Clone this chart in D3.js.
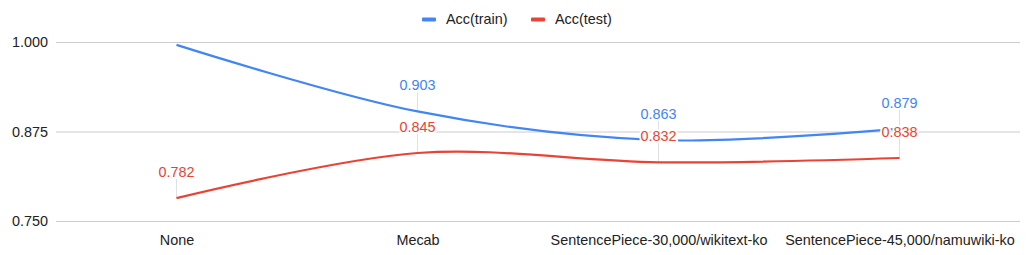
<!DOCTYPE html>
<html>
<head>
<meta charset="utf-8">
<script src="https://cdn.jsdelivr.net/npm/d3@7"></script>
<style>
  body { margin: 0; background: #fff; }
  text { font-family: "Liberation Sans", Arial, sans-serif; }
</style>
</head>
<body>
<div id="chart"></div>
<script>
// data
const categories = ["None", "Mecab", "SentencePiece-30,000/wikitext-ko", "SentencePiece-45,000/namuwiki-ko"];
const accTrain = [0.996, 0.903, 0.863, 0.879];
const accTest = [0.782, 0.845, 0.832, 0.838];
const yTicks = [0.750, 0.875, 1.000];
const seriesNames = ["Acc(train)", "Acc(test)"];
const seriesColors = ["#4285f4", "#ea4335"];

const width = 1033, height = 255;
const margin = {top: 42, right: 13, bottom: 34, left: 56};
const fontSize = "14.4px";

const svg = d3.select("#chart").append("svg")
    .attr("width", width)
    .attr("height", height);

const x = d3.scalePoint()
    .domain(categories)
    .range([margin.left, width - margin.right])
    .padding(0.5);

const y = d3.scaleLinear()
    .domain([0.75, 1.0])
    .range([height - margin.bottom, margin.top]);

// gridlines + y labels
const yAxis = svg.append("g")
    .attr("transform", `translate(${margin.left},0)`)
    .call(d3.axisLeft(y)
        .tickValues(yTicks)
        .tickFormat(d3.format(".3f"))
        .tickSize(-(width - margin.left - margin.right))
        .tickPadding(8));
yAxis.select(".domain").remove();
yAxis.selectAll(".tick line").attr("stroke", "#cccccc");
yAxis.selectAll(".tick text")
    .attr("fill", "#222")
    .style("font-size", fontSize);

// x labels
const xAxis = svg.append("g")
    .attr("transform", `translate(0,${height - margin.bottom})`)
    .call(d3.axisBottom(x).tickSize(0).tickPadding(14));
xAxis.select(".domain").remove();
xAxis.selectAll(".tick text")
    .attr("fill", "#222")
    .style("font-size", fontSize);

const series = [
  {name: seriesNames[0], color: seriesColors[0], values: accTrain},
  {name: seriesNames[1], color: seriesColors[1], values: accTest}
];

const line = d3.line()
    .x((d, i) => x(categories[i]))
    .y(d => y(d))
    .curve(d3.curveCatmullRom.alpha(0.5));

// leader lines
series.forEach(s => {
  svg.append("g").selectAll("line")
    .data(s.values.map((v, i) => ({v, i})).filter(d => y(d.v) - 26 > margin.top))
    .join("line")
      .attr("x1", d => x(categories[d.i]))
      .attr("x2", d => x(categories[d.i]))
      .attr("y1", d => y(d.v))
      .attr("y2", d => y(d.v) - 19)
      .attr("stroke", "#e0e0e0")
      .attr("stroke-width", 1);
});

series.forEach(s => {
  svg.append("path")
    .datum(s.values)
    .attr("fill", "none")
    .attr("stroke", s.color)
    .attr("stroke-width", 2.2)
    .attr("d", line);
});

// point labels
series.forEach(s => {
  svg.append("g").selectAll("text")
    .data(s.values.map((v, i) => ({v, i})).filter(d => y(d.v) - 26 > margin.top))
    .join("text")
      .attr("x", d => x(categories[d.i]))
      .attr("y", d => y(d.v) - 21)
      .attr("text-anchor", "middle")
      .attr("fill", s.color)
      .attr("stroke", "#fff")
      .attr("stroke-width", 4)
      .attr("paint-order", "stroke")
      .style("font-size", fontSize)
      .text(d => d3.format(".3f")(d.v));
});

// legend
const legend = svg.append("g");
const legendX = [422, 531];
series.forEach((s, i) => {
  legend.append("rect")
    .attr("x", legendX[i])
    .attr("y", 17.5)
    .attr("width", 14)
    .attr("height", 4)
    .attr("rx", 1)
    .attr("fill", s.color);
  legend.append("text")
    .attr("x", legendX[i] + 24)
    .attr("y", 24)
    .attr("fill", "#222")
    .style("font-size", fontSize)
    .text(s.name);
});
</script>
</body>
</html>
